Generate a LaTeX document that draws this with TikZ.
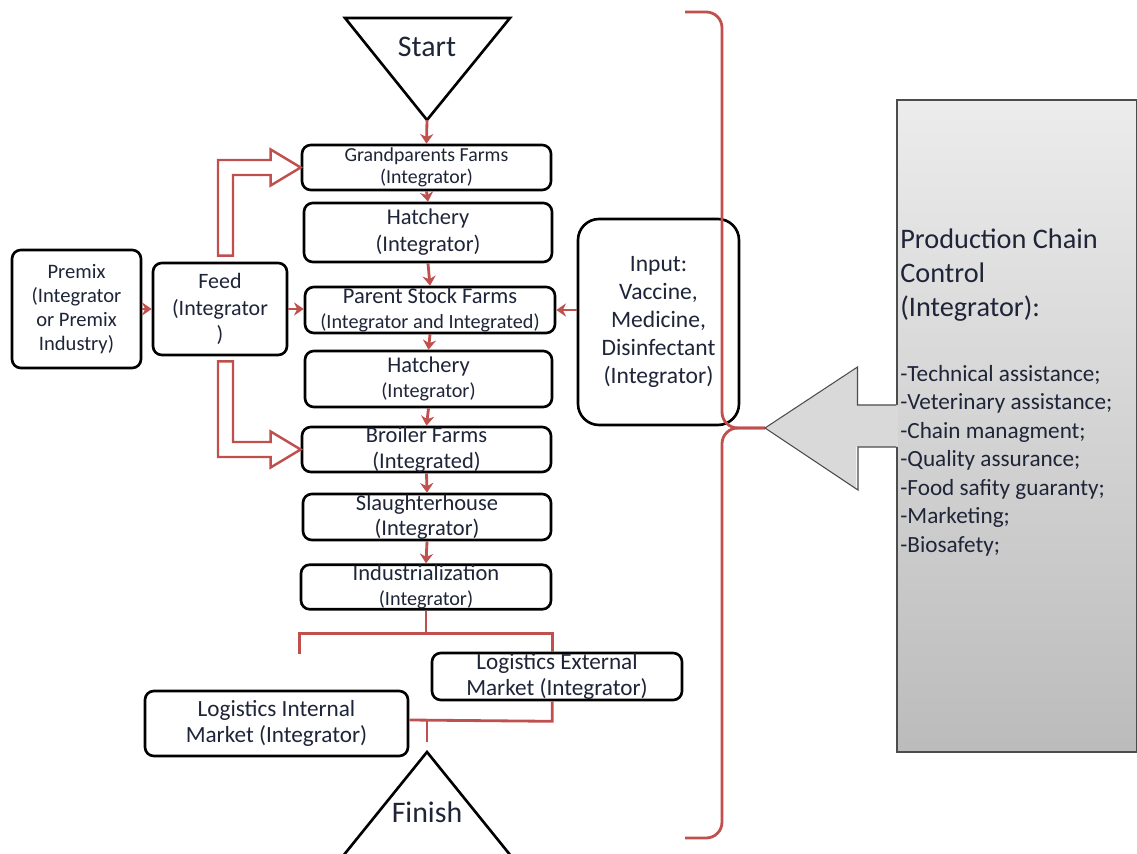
\documentclass[tikz,border=0pt]{standalone}
\usepackage{fontspec}
\setmainfont{Carlito}
\usepackage{xcolor}
\usetikzlibrary{calc, arrows.meta}

\definecolor{chainred}{HTML}{C0504D}
\definecolor{chaintext}{HTML}{1F2538}
\newlength\pxu
\setlength\pxu{0.02cm}

\tikzset{
  stage/.style={draw, line width=1.5pt, rounded corners=5pt, fill=white, align=center,
    inner sep=0pt, text=chaintext, font=\fontsize{12.8}{14.5}\selectfont},
  flow/.style={draw=chainred, line width=1.6pt, -{Stealth[length=5.5pt,width=7.5pt]}},
  redline/.style={draw=chainred, line width=1.6pt},
  feedarrow/.style={draw=chainred, line width=1.4pt, fill=white, line join=miter},
  endpoint/.style={line width=1.5pt},
}

\begin{document}
\begin{tikzpicture}[x=0.02cm, y=-0.02cm]
\useasboundingbox (0,0) rectangle (1137,854);
\clip (0,0) rectangle (1137,854);

\draw[endpoint] (345,18) -- (510,18) -- (427,120) -- cycle;
\node[text=chaintext, font=\fontsize{17}{20}\selectfont] (start) at (427,47) {Start};
\coordinate (startTip) at (427,120);

\node[stage, minimum width=249\pxu, minimum height=45\pxu, font=\fontsize{11.3}{12.8}\selectfont] (gpf) at (426.5,167.5) {Grandparents Farms\\(Integrator)};
\node[stage, minimum width=248\pxu, minimum height=59\pxu, font=\fontsize{12.8}{15.3}\selectfont] (hat1) at (428,232.5) {Hatchery\\(Integrator)};
\node[stage, minimum width=250\pxu, minimum height=46\pxu] (psf) at (430,310) {Parent Stock Farms\\{\fontsize{11.5}{12.5}\selectfont(Integrator and Integrated)}};
\node[stage, minimum width=247\pxu, minimum height=56\pxu] (hat2) at (428.5,379) {Hatchery\\{\fontsize{11.5}{13}\selectfont(Integrator)}};
\node[stage, minimum width=249\pxu, minimum height=45\pxu] (brf) at (426.5,449.5) {Broiler Farms\\(Integrated)};
\node[stage, minimum width=248\pxu, minimum height=46\pxu] (slh) at (427,517) {Slaughterhouse\\(Integrator)};
\node[stage, minimum width=250\pxu, minimum height=44\pxu] (ind) at (426,587) {Industrialization\\{\fontsize{11.5}{12.5}\selectfont(Integrator)}};

\node[stage, minimum width=129\pxu, minimum height=118\pxu, font=\fontsize{11.7}{13.6}\selectfont] (premix) at (76.5,309) {Premix\\(Integrator\\or Premix\\Industry)};
\node[stage, minimum width=134\pxu, minimum height=92\pxu, font=\fontsize{12.5}{15}\selectfont] (feed) at (220,309) {Feed\\(Integrator\\)};
\node[stage, minimum width=161\pxu, minimum height=206\pxu, rounded corners=12pt, font=\fontsize{13.4}{15.9}\selectfont] (input) at (658.5,322) {Input:\\Vaccine,\\Medicine,\\Disinfectant\\(Integrator)};

\node[stage, minimum width=250\pxu, minimum height=47\pxu, font=\fontsize{13.2}{15.3}\selectfont] (ext) at (557,676.5) {Logistics External\\Market (Integrator)};
\node[stage, minimum width=263\pxu, minimum height=65\pxu, font=\fontsize{13.2}{15.3}\selectfont] (int) at (276.5,723.5) {Logistics Internal\\Market (Integrator)};

\draw[endpoint] (343,856) -- (427,752) -- (511,856);
\node[text=chaintext, font=\fontsize{17}{20}\selectfont] (finish) at (427,812) {Finish};
\coordinate (finTip) at (427,752);

\draw[flow] (startTip) -- (gpf.north);
\foreach \a/\b in {gpf/hat1, hat1/psf, psf/hat2, hat2/brf, brf/slh, slh/ind}
  \draw[flow] (\a.south) -- (\b.north);
\draw[flow] (premix.east) -- (feed.west);
\draw[flow] (feed.east) -- (feed.east -| psf.west);
\draw[flow] (input.west |- psf.east) -- (psf.east);

\draw[feedarrow] ($(feed.north)+(-2,-6)$) |- ($(gpf.west)+(-30,-7.5)$) -- ++(0,-10.5) -- (gpf.west)
  -- ++(-30,18) -- ++(0,-10.5) -| ($(feed.north)+(13,-6)$) -- cycle;
\draw[feedarrow] ($(feed.south)+(-2,5)$) |- ($(brf.west)+(-30,7.5)$) -- ++(0,10.5) -- (brf.west)
  -- ++(-30,-18) -- ++(0,10.5) -| ($(feed.south)+(13,5)$) -- cycle;

\draw[redline] (ind.south) -- ++(0,23);
\draw[redline] ($(ind.south west)+(0,43)$) -- ++(0,-20) -- ($(ind.south east)+(0,23)$) -- (ind.south east |- ext.north);
\draw[redline] (ind.south east |- ext.south) -- ++(0,20) -- (int.east |- 0,720);
\draw[redline] (finTip |- 0,720) -- ++(0,22);

\coordinate (braceTip) at (765,428);
\draw[redline, rounded corners=9pt] (685,12) -- (722,12) -- (722,428) -- (braceTip);
\draw[redline, rounded corners=9pt] (braceTip) -- (722,428) -- (722,838) -- (685,838);

\node[draw=gray!60!black, line width=0.6pt, top color=gray!15, bottom color=gray!53,
  minimum width=240\pxu, minimum height=652\pxu, inner sep=0pt] (pcc) at (1017,426) {};
\fill[gray!30] (braceTip) -- ++(93,-61) -- ++(0,38) -- ($(pcc.west)+(1.5,-21)$) -- ($(pcc.west)+(1.5,21)$)
  -- ++(-41.5,0) -- ++(0,43) -- cycle;
\draw[gray!60!black, line width=0.6pt] ($(pcc.west)+(0,-21)$) -- ++(-39,0) -- ++(0,-38) -- (braceTip)
  -- ++(93,62) -- ++(0,-43) -- ($(pcc.west)+(0,21)$);

\node[anchor=north west, align=left, inner sep=0pt, text=chaintext, font=\fontsize{16.1}{19.3}\selectfont] (pcchead) at (900,229) {Production Chain\\Control\\(Integrator):};
\node[anchor=north west, align=left, inner sep=0pt, text=chaintext, font=\fontsize{13.2}{16.2}\selectfont] (pcclist) at (900,365)
  {-Technical assistance;\\-Veterinary assistance;\\-Chain managment;\\-Quality assurance;\\-Food safity guaranty;\\-Marketing;\\-Biosafety;};
\end{tikzpicture}
\end{document}
